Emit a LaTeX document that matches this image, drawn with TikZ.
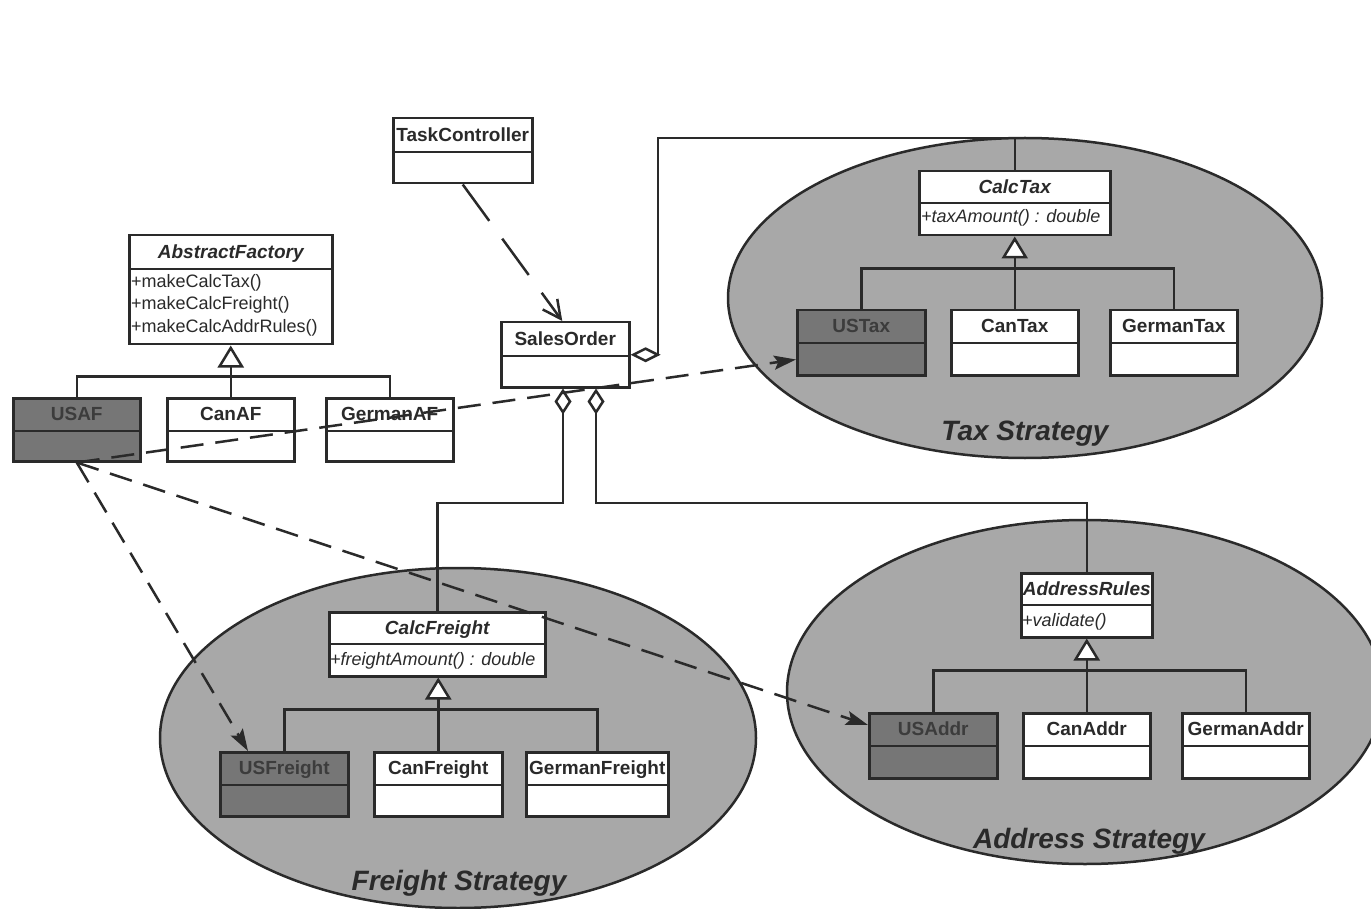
\documentclass[tikz,border=0pt]{standalone}
\usepackage{fontspec}
\setmainfont{Liberation Sans}
\usetikzlibrary{arrows.meta,calc}
\definecolor{ink}{RGB}{42,42,42}
\definecolor{txt}{RGB}{42,42,42}
\definecolor{ustxt}{RGB}{60,60,60}
\definecolor{ellfill}{RGB}{168,168,168}
\definecolor{usfill}{RGB}{118,118,118}
\tikzset{
  lw/.style={line width=2.5pt},
  clsbox/.style={draw=ink, lw, rectangle, inner sep=0pt, anchor=north west},
  ttl/.style={font=\fontsize{19}{22}\selectfont\bfseries, text=txt, inner sep=0pt, anchor=base},
  ttlit/.style={font=\fontsize{19}{22}\selectfont\bfseries\itshape, text=txt, inner sep=0pt, anchor=base},
  ttlus/.style={font=\fontsize{19}{22}\selectfont\bfseries, text=ustxt, inner sep=0pt, anchor=base},
  meth/.style={font=\fontsize{18}{21}\selectfont, text=txt, inner sep=0pt, anchor=base west},
  methit/.style={font=\fontsize{18}{21}\selectfont\itshape, text=txt, inner sep=0pt, anchor=base west},
  grouplabel/.style={font=\fontsize{28}{32}\selectfont\bfseries\itshape, text=txt, inner sep=0pt, anchor=base},
  group/.style={draw=ink, lw, fill=ellfill},
  conn/.style={draw=ink, lw},
  gen/.style={conn, -{Triangle[open, fill=white, length=22pt, width=26pt]}},
  aggh/.style={conn, -{Diamond[open, fill=white, length=30pt, width=15pt]}},
  aggv/.style={conn, -{Diamond[open, fill=white, length=26pt, width=17pt]}},
  usedep/.style={conn, dash pattern=on 45pt off 22pt, -{Straight Barb[length=18pt, width=18pt]}},
  creates/.style={conn, dash pattern=on 23pt off 12pt, -{Stealth[length=22pt, width=14pt, inset=4pt]}},
}
% #1 name, #2 x, #3 y, #4 w, #5 h, #6 title height, #7 fill, #8 title style, #9 title
\newcommand\umlclass[9]{%
  \node[clsbox, fill=#7, minimum width=#4pt, minimum height=#5pt] (#1) at (#2,#3) {};
  \draw[conn] ($(#1.north west)+(0,#6)$) -- ($(#1.north east)+(0,#6)$);
  \node[#8] (#1-t) at ($(#1.north)+(0,#6/2+6.8)$) {#9};
}
\begin{document}
\begin{tikzpicture}[x=1pt, y=-1pt]
\fill[white] (0,0) rectangle (1371,909);
\useasboundingbox (0,0) rectangle (1371,909);
\clip (0,0) rectangle (1371,909);

% strategy groups
\draw[group] (1025,298) ellipse [x radius=297, y radius=160];
\draw[group] (458,738) ellipse [x radius=298, y radius=170];
\draw[group] (1085,692) ellipse [x radius=298, y radius=172];
\node[grouplabel] (taxlabel) at (1025,440) {Tax Strategy};
\node[grouplabel] (freightlabel) at (459,890) {Freight Strategy};
\node[grouplabel] (addrlabel) at (1089,848) {Address Strategy};

% classes
\umlclass{tc}{392}{117}{139}{65}{35}{white}{ttl}{TaskController}
\umlclass{so}{500}{321}{128}{65}{35}{white}{ttl}{SalesOrder}

\umlclass{af}{128}{234}{203}{109}{35}{white}{ttlit}{AbstractFactory}
\node[meth] (afm1) at (131,288) {+makeCalcTax()};
\node[meth] (afm2) at (131,310) {+makeCalcFreight()};
\node[meth] (afm3) at (131,333) {+makeCalcAddrRules()};
\umlclass{usaf}{12}{397}{127}{63}{34}{usfill}{ttlus}{USAF}
\umlclass{canaf}{166}{397}{127}{63}{34}{white}{ttl}{CanAF}
\umlclass{germanaf}{325}{397}{127}{63}{34}{white}{ttl}{GermanAF}

\umlclass{calctax}{918}{170}{191}{64}{33}{white}{ttlit}{CalcTax}
\node[methit] (calctaxm) at (921,223) {+taxAmount() : double};
\umlclass{ustax}{796}{309}{128}{65}{34}{usfill}{ttlus}{USTax}
\umlclass{cantax}{950}{309}{127}{65}{34}{white}{ttl}{CanTax}
\umlclass{germantax}{1109}{309}{127}{65}{34}{white}{ttl}{GermanTax}

\umlclass{calcfreight}{328}{611}{216}{64}{33}{white}{ttlit}{CalcFreight}
\node[methit] (calcfreightm) at (330,665) {+freightAmount() : double};
\umlclass{usfreight}{219}{751}{128}{64}{34}{usfill}{ttlus}{USFreight}
\umlclass{canfreight}{373}{751}{128}{64}{34}{white}{ttl}{CanFreight}
\umlclass{germanfreight}{525}{751}{142}{64}{34}{white}{ttl}{GermanFreight}

\umlclass{addressrules}{1020}{572}{131}{64}{33}{white}{ttlit}{AddressRules}
\node[methit] (addressrulesm) at (1022,626) {+validate()};
\umlclass{usaddr}{868}{712}{128}{65}{34}{usfill}{ttlus}{USAddr}
\umlclass{canaddr}{1022}{712}{127}{65}{34}{white}{ttl}{CanAddr}
\umlclass{germanaddr}{1181}{712}{127}{65}{34}{white}{ttl}{GermanAddr}

% generalizations
\draw[conn] (usaf.north) |- ($(af.south)+(0,31)$) -| (germanaf.north);
\draw[gen] (canaf.north) -- (canaf.north |- af.south);
\draw[conn] (ustax.north) |- ($(calctax.south)+(0,32)$) -| (germantax.north);
\draw[gen] (cantax.north) -- (cantax.north |- calctax.south);
\draw[conn] (usfreight.north) |- ($(calcfreight.south)+(0,32)$) -| (germanfreight.north);
\draw[gen] (canfreight.north) -- (canfreight.north |- calcfreight.south);
\draw[conn] (usaddr.north) |- ($(addressrules.south)+(0,32)$) -| (germanaddr.north);
\draw[gen] (canaddr.north) -- (canaddr.north |- addressrules.south);

% aggregations
\coordinate (taxturn) at (658,138);
\coordinate (frturn) at (563,503);
\coordinate (adturn) at (596,503);
\draw[aggh] (calctax.north) |- (taxturn) |- (so.east);
\draw[aggv] (calcfreight.north) |- (frturn) -- (frturn |- so.south);
\draw[aggv] (addressrules.north) |- (adturn) -- (adturn |- so.south);

% dependencies
\draw[usedep] (tc.south) -- ($(so.north)+(-3,0)$);
\draw[creates] (usaf.south) -- ($(ustax.south west)+(0,-17)$);
\draw[creates] (usaf.south) -- ($(usfreight.north west)+(29,0)$);
\draw[creates] (usaf.south) -- ($(usaddr.north west)+(0,13)$);
\end{tikzpicture}
\end{document}
